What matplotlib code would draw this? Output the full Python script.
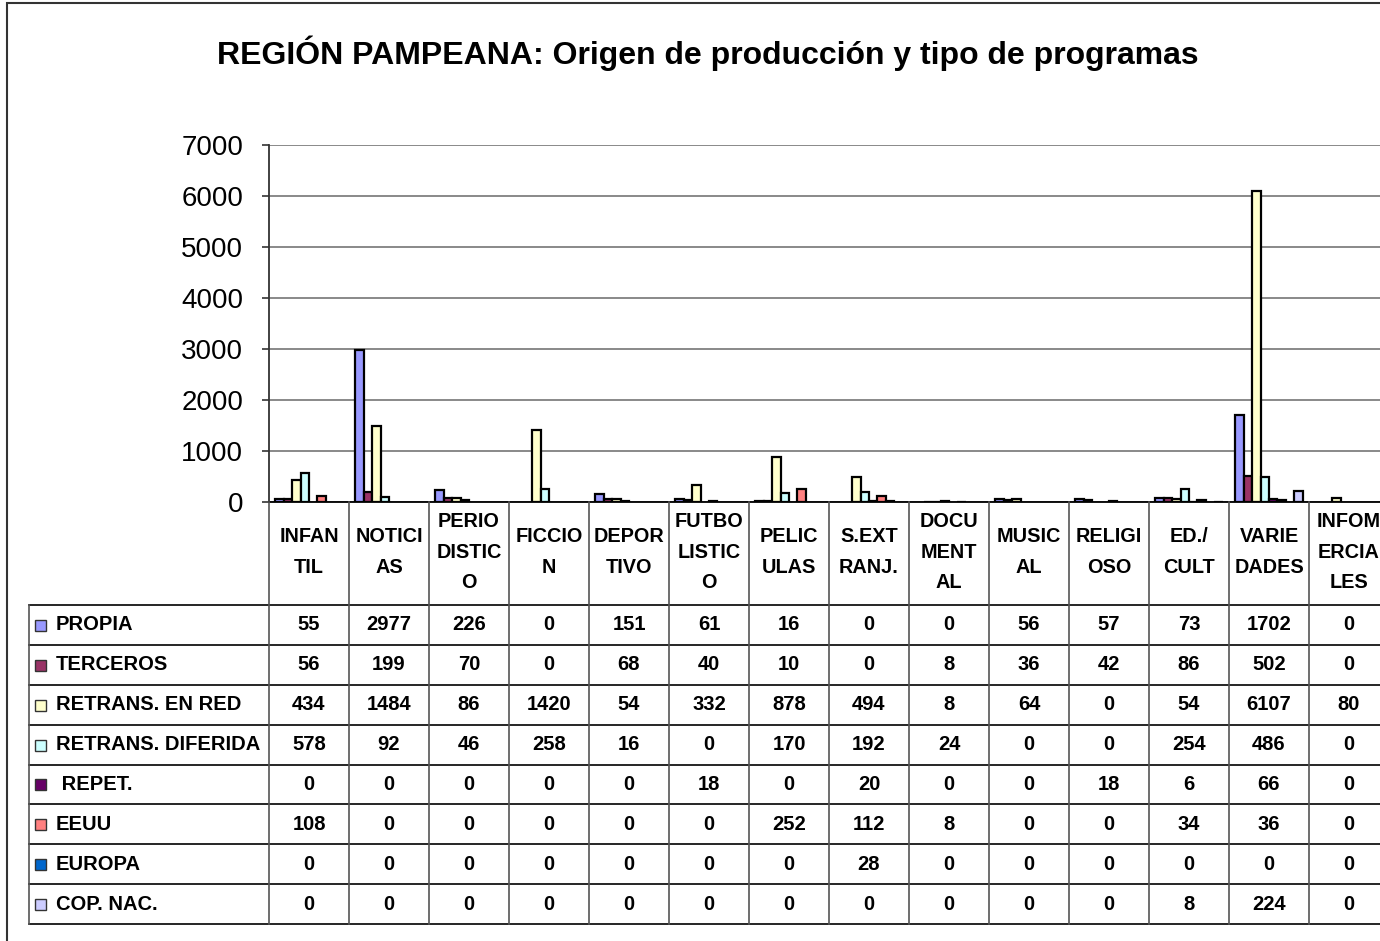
import matplotlib.pyplot as plt
import numpy as np
from matplotlib.patches import Rectangle

plt.rcParams['font.family'] = ['Liberation Sans', 'DejaVu Sans']

# categories (as printed in the chart, with its line breaks)
categories = ['INFAN\nTIL', 'NOTICI\nAS', 'PERIO\nDISTIC\nO', 'FICCIO\nN', 'DEPOR\nTIVO',
              'FUTBO\nLISTIC\nO', 'PELIC\nULAS', 'S.EXT\nRANJ.', 'DOCU\nMENT\nAL',
              'MUSIC\nAL', 'RELIGI\nOSO', 'ED./\nCULT', 'VARIE\nDADES', 'INFOM\nERCIA\nLES']

series_names = ['PROPIA', 'TERCEROS', 'RETRANS. EN RED', 'RETRANS. DIFERIDA',
                ' REPET.', 'EEUU', 'EUROPA', 'COP. NAC.']

propia = [55, 2977, 226, 0, 151, 61, 16, 0, 0, 56, 57, 73, 1702, 0]
terceros = [56, 199, 70, 0, 68, 40, 10, 0, 8, 36, 42, 86, 502, 0]
retrans_red = [434, 1484, 86, 1420, 54, 332, 878, 494, 8, 64, 0, 54, 6107, 80]
retrans_dif = [578, 92, 46, 258, 16, 0, 170, 192, 24, 0, 0, 254, 486, 0]
repet = [0, 0, 0, 0, 0, 18, 0, 20, 0, 0, 18, 6, 66, 0]
eeuu = [108, 0, 0, 0, 0, 0, 252, 112, 8, 0, 0, 34, 36, 0]
europa = [0, 0, 0, 0, 0, 0, 0, 28, 0, 0, 0, 0, 0, 0]
cop_nac = [0, 0, 0, 0, 0, 0, 0, 0, 0, 0, 0, 8, 224, 0]

series = [propia, terceros, retrans_red, retrans_dif, repet, eeuu, europa, cop_nac]
colors = ['#9999FF', '#993366', '#FFFFCC', '#CCFFFF', '#660066', '#FF8080', '#0066CC', '#CCCCFF']

W, H = 1380, 941
fig = plt.figure(figsize=(W / 100, H / 100), dpi=100)

# outer chart border (cut at right/bottom like the source)
fig.patches.append(Rectangle((7 / W, -0.1), 2, 1.1 - 3 / H, transform=fig.transFigure,
                             fill=False, edgecolor='#333333', linewidth=1.5))

fig.text(708 / W, 1 - 53 / H, 'REGIÓN PAMPEANA: Origen de producción y tipo de programas',
         ha='center', va='center', fontsize=23, fontweight='bold')

# bar plot area
ax_left, ax_right = 269, 1389
ax_top, ax_bot = 145, 502
ax = fig.add_axes([ax_left / W, 1 - ax_bot / H, (ax_right - ax_left) / W, (ax_bot - ax_top) / H])
x = np.arange(len(categories))
n = len(series)
bw = 0.84 / n
for i, (vals, c) in enumerate(zip(series, colors)):
    lw = [1.6 if v > 0 else 0 for v in vals]
    ax.bar(x + (i - (n - 1) / 2) * bw, vals, width=bw, color=c, edgecolor='black',
           linewidth=lw, zorder=3)

ax.set_xlim(-0.5, len(categories) - 0.5)
ax.set_ylim(0, 7000)
ax.set_yticks(np.arange(0, 7001, 1000))
ax.yaxis.grid(True, color='#808080', linewidth=1.3, zorder=1)
ax.set_xticks([])
for s in ['top', 'right']:
    ax.spines[s].set_visible(False)
ax.spines['left'].set_color('#333333')
ax.spines['bottom'].set_color('black')
ax.spines['left'].set_linewidth(1.3)
ax.spines['bottom'].set_linewidth(1.3)
ax.tick_params(axis='y', length=5, width=1.2, color='#333333', pad=13.5, labelsize=20)

# data table below
tb_left, tb_top, tb_bot = 29, 502, 924
tax = fig.add_axes([tb_left / W, 1 - tb_bot / H, (ax_right - tb_left) / W, (tb_bot - tb_top) / H])
tax.set_xlim(-3.5, len(categories) - 0.5)
tax.set_ylim(tb_bot - tb_top, 0)
tax.axis('off')
head_h = 103
row_h = (tb_bot - tb_top - head_h) / n
xr = len(categories) - 0.5
# horizontal lines
for r in range(n + 1):
    yy = head_h + r * row_h
    tax.plot([-3.5, xr], [yy, yy], color='black', linewidth=1.2, clip_on=False)
# vertical lines
tax.plot([-3.5, -3.5], [head_h, tb_bot - tb_top], color='#555555', linewidth=1.2, clip_on=False)
for k in range(len(categories) + 1):
    xx = k - 0.5
    tax.plot([xx, xx], [0, tb_bot - tb_top], color='#555555', linewidth=1.2, clip_on=False)

for k, lab in enumerate(categories):
    tax.text(k, 50, lab, ha='center', va='center', fontsize=14.3, fontweight='bold',
             linespacing=1.75)

for r, (name, vals, c) in enumerate(zip(series_names, series, colors)):
    yc = head_h + (r + 0.5) * row_h
    tax.add_patch(Rectangle((-3.43, yc - 5), 11 / 80, 11, facecolor=c, edgecolor='#333333',
                            linewidth=1.0))
    tax.text(-3.5 + 27 / 80, yc, name, ha='left', va='center', fontsize=14.5, fontweight='bold')
    for k, v in enumerate(vals):
        tax.text(k, yc, str(v), ha='center', va='center', fontsize=14.5, fontweight='bold')

fig.savefig('out.png', dpi=100)
